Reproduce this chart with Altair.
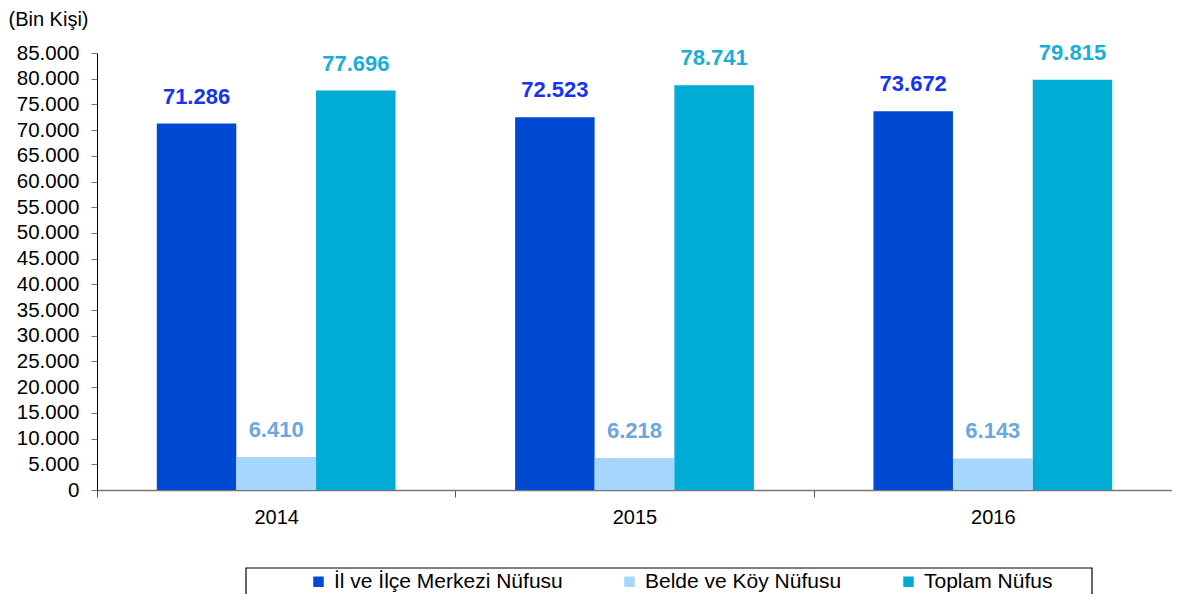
import altair as alt
import pandas as pd

years = ["2014", "2015", "2016"]
series = ["İl ve İlçe Merkezi Nüfusu", "Belde ve Köy Nüfusu", "Toplam Nüfus"]
il_ilce = [71286, 72523, 73672]
belde_koy = [6410, 6218, 6143]
toplam = [77696, 78741, 79815]
y_ticks = list(range(0, 85001, 5000))

bar_colors = ["#0049D3", "#A5D6FB", "#00ABD5"]
label_colors = ["#1434F2", "#6AA8DF", "#18AFD7"]

rows = []
for i, y in enumerate(years):
    for s, vals in zip(series, [il_ilce, belde_koy, toplam]):
        rows.append({"year": y, "series": s, "value": vals[i]})
df = pd.DataFrame(rows)

FONT = "Liberation Sans"

x_enc = alt.X("year:N", sort=years,
              scale=alt.Scale(paddingInner=0, paddingOuter=0),
              axis=alt.Axis(title=None, labelFontSize=20, labelFont=FONT, labelColor="black",
                            labelAngle=0, labelPadding=10, tickBand="extent", tickSize=7,
                            tickColor="#555555", domainColor="#777777", domainWidth=1.5))
xoff = alt.XOffset("series:N", sort=series,
                   scale=alt.Scale(paddingInner=0, paddingOuter=0.75))
y_enc = alt.Y("value:Q",
              scale=alt.Scale(domain=[0, 85000], nice=False, zero=True),
              axis=alt.Axis(title="(Bin Kişi)", titleAngle=0, titleAlign="left",
                            titleBaseline="top", titleX=-89, titleY=-44,
                            titleFont=FONT, titleFontSize=20, titleFontWeight="normal",
                            titleColor="black",
                            values=y_ticks, labelFontSize=20.5, labelFont=FONT,
                            labelColor="black", labelPadding=12, tickSize=6,
                            labelOverlap=False, labelBound=False,
                            tickColor="#777777", domainColor="black", grid=False,
                            labelExpr="replace(format(datum.value, ','), ',', '.')"))

bars = alt.Chart(df).mark_bar(size=79.5).encode(
    x=x_enc, xOffset=xoff, y=y_enc,
    color=alt.Color("series:N", sort=series,
                    scale=alt.Scale(domain=series, range=bar_colors),
                    legend=alt.Legend(title=None, orient="none", direction="horizontal",
                                      legendX=211, legendY=518, labelFontSize=21,
                                      labelFont=FONT, labelColor="black", symbolType="square",
                                      symbolSize=110, symbolStrokeWidth=0, labelOffset=5,
                                      columnPadding=56, labelLimit=400, padding=0)),
)

labels = alt.Chart(df).mark_text(baseline="bottom", dy=-15, fontSize=22, font=FONT,
                                 fontWeight="bold").encode(
    x=x_enc, xOffset=xoff, y=y_enc,
    text=alt.Text("label:N"),
    color=alt.Color("series2:N", scale=alt.Scale(domain=series, range=label_colors), legend=None),
).transform_calculate(
    label="replace(format(datum.value, ','), ',', '.')",
    series2="datum.series",
)

box = alt.Chart(df).mark_rect(fill="white", fillOpacity=0, stroke="black", strokeWidth=1.2).encode(
    x=alt.value(149), x2=alt.value(995), y=alt.value(515), y2=alt.value(570)
).transform_filter("datum.year == '2014' && datum.series == 'Toplam Nüfus'")

chart = alt.layer(bars, labels, box).resolve_scale(color="independent").properties(
    width=1075, height=437,
    background="white",
    autosize=alt.AutoSizeParams(type="none"),
    padding={"left": 89, "top": 45, "right": 0, "bottom": 104},
).configure_view(stroke=None, strokeWidth=0)

chart.save("out.html", embed_options={"renderer": "svg", "actions": False})
